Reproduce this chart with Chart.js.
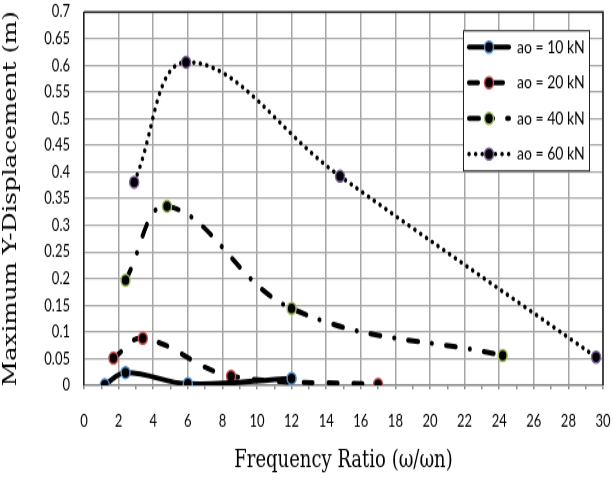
<!DOCTYPE html>
<html>
<head>
<meta charset="utf-8">
<title>Maximum Y-Displacement vs Frequency Ratio</title>
<script src="https://cdn.jsdelivr.net/npm/chart.js@4.4.1/dist/chart.umd.min.js"></script>
<style>
  html, body { margin: 0; padding: 0; background: #fff; }
  #outer { width: 613px; height: 480px; overflow: hidden; position: relative; }
  /* the source picture is an Excel chart stretched vertically, so draw short and show tall */
  #wrap { position: absolute; left: 0; top: 0; width: 613px; height: 370px;
          transform: scaleY(1.2973); transform-origin: 0 0; }
</style>
</head>
<body>
<div id="outer"><div id="wrap"><canvas id="dispChart" width="613" height="370"></canvas></div></div>
<script>
const seriesLabels = ['ao = 10 kN', 'ao = 20 kN', 'ao = 40 kN', 'ao = 60 kN'];

// frequency ratio (x) and max Y displacement in m (y)
const ratio10 = [1.2, 2.4, 6.0, 12.0];
const disp10  = [0.001, 0.024, 0.003, 0.013];
const ratio20 = [1.7, 3.4, 8.5, 17.0];
const disp20  = [0.051, 0.088, 0.017, 0.002];
const ratio40 = [2.4, 4.8, 12.0, 24.2];
const disp40  = [0.197, 0.336, 0.144, 0.056];
const ratio60 = [2.9, 5.9, 14.8, 29.6];
const disp60  = [0.381, 0.606, 0.392, 0.053];

const xTicks = [0, 1, 2, 3, 4, 5, 6, 7, 8, 9, 10, 11, 12, 13, 14, 15, 16, 17, 18, 19, 20,
                21, 22, 23, 24, 25, 26, 27, 28, 29, 30];
const xTickLabels = ['0', '', '2', '', '4', '', '6', '', '8', '', '10', '', '12', '', '14', '',
                     '16', '', '18', '', '20', '', '22', '', '24', '', '26', '', '28', '', '30'];
const yTicks = [0, 0.05, 0.1, 0.15, 0.2, 0.25, 0.3, 0.35, 0.4, 0.45, 0.5, 0.55, 0.6, 0.65, 0.7];
const yTickLabels = ['0', '0.05', '0.1', '0.15', '0.2', '0.25', '0.3', '0.35', '0.4', '0.45',
                     '0.5', '0.55', '0.6', '0.65', '0.7'];

const markerColors = ['#4f8fd6', '#d0504d', '#9bbb59', '#8064a2'];
const dashes = [[], [9, 16], [10, 14, 0.1, 14], [0.1, 6.5]];
const widths = [4, 4, 4, 3.5];

function toPoints(xs, ys) {
    return xs.map((x, i) => ({ x: x, y: ys[i] }));
}

const seriesData = [
    toPoints(ratio10, disp10),
    toPoints(ratio20, disp20),
    toPoints(ratio40, disp40),
    toPoints(ratio60, disp60)
];

// top + right edges of the plot box (left is the y border)
const plotBox = {
    id: 'plotBox',
    beforeDatasetsDraw(chart) {
        const { ctx, chartArea } = chart;
        ctx.save();
        ctx.strokeStyle = '#222';
        ctx.lineWidth = 1.5;
        ctx.beginPath();
        ctx.moveTo(chartArea.left, chartArea.top);
        ctx.lineTo(chartArea.right, chartArea.top);
        ctx.lineTo(chartArea.right, chartArea.bottom);
        ctx.stroke();
        ctx.restore();
    }
};

// Excel style legend: line sample with marker in the middle
const legendBox = {
    id: 'legendBox',
    afterDatasetsDraw(chart) {
        const { ctx, chartArea } = chart;
        const w = 126, h = 108;
        const left = chartArea.right - 14 - w;
        const top = chartArea.top + 14;
        ctx.save();
        ctx.fillStyle = '#fff';
        ctx.fillRect(left, top, w, h);
        ctx.strokeStyle = '#222';
        ctx.lineWidth = 1;
        ctx.strokeRect(left + 0.5, top + 0.5, w, h);
        chart.data.datasets.forEach((ds, i) => {
            const y = top + 13 + i * 27.5;
            ctx.setLineDash(ds.borderDash);
            ctx.lineCap = 'round';
            ctx.lineWidth = ds.borderWidth;
            ctx.strokeStyle = '#000';
            ctx.beginPath();
            ctx.moveTo(left + 6, y);
            ctx.lineTo(left + 46, y);
            ctx.stroke();
            ctx.setLineDash([]);
            ctx.beginPath();
            ctx.arc(left + 26, y, ds.pointRadius, 0, Math.PI * 2);
            ctx.fillStyle = '#000';
            ctx.fill();
            ctx.lineWidth = 1.5;
            ctx.strokeStyle = ds.pointBorderColor;
            ctx.stroke();
            ctx.fillStyle = '#000';
            ctx.font = '14px Lato';
            ctx.textBaseline = 'middle';
            ctx.textAlign = 'left';
            ctx.fillText(ds.label, left + 54, y);
        });
        ctx.restore();
    }
};

const tickFont = { family: 'Lato', size: 13 };

new Chart(document.getElementById('dispChart').getContext('2d'), {
    type: 'scatter',
    data: {
        datasets: seriesLabels.map((label, i) => ({
            label: label,
            data: seriesData[i],
            showLine: true,
            tension: 0.4,
            borderColor: '#000',
            borderWidth: widths[i],
            borderDash: dashes[i],
            borderCapStyle: 'round',
            borderJoinStyle: 'round',
            pointRadius: 4.5,
            pointBackgroundColor: '#000',
            pointBorderColor: markerColors[i],
            pointBorderWidth: 1.5
        }))
    },
    options: {
        responsive: false,
        animation: false,
        layout: { padding: { top: 9.25, right: 10, bottom: 0, left: 0 } },
        plugins: {
            legend: { display: false },
            tooltip: { enabled: false }
        },
        scales: {
            x: {
                type: 'linear',
                min: 0,
                max: 30,
                afterBuildTicks: axis => { axis.ticks = xTicks.map(v => ({ value: v })); },
                afterFit: axis => {
                    axis.height = 73;
                    // tick padding would otherwise widen the side margins
                    axis.paddingLeft = 0;
                    axis.paddingRight = 0;
                },
                ticks: {
                    callback: (v, i) => xTickLabels[i],
                    autoSkip: false,
                    maxRotation: 0,
                    color: '#000',
                    font: tickFont,
                    padding: 17
                },
                grid: {
                    color: ctx => (ctx.index % 2 === 0 ? '#a6a6a6' : 'rgba(0,0,0,0)'),
                    lineWidth: 1.5,
                    tickColor: '#8c8c8c',
                    tickLength: 3
                },
                border: { color: '#8c8c8c', width: 1.5 },
                title: {
                    display: true,
                    text: 'Frequency Ratio (ω/ωn)',
                    color: '#000',
                    font: { family: 'DejaVu Serif', size: 18 },
                    padding: { top: 0, bottom: 4 }
                }
            },
            y: {
                min: 0,
                max: 0.7,
                afterBuildTicks: axis => { axis.ticks = yTicks.map(v => ({ value: v })); },
                afterFit: axis => {
                    axis.width = 84;
                    axis.paddingTop = 0;
                    axis.paddingBottom = 0;
                },
                ticks: {
                    callback: (v, i) => yTickLabels[i],
                    autoSkip: false,
                    color: '#000',
                    font: tickFont,
                    padding: 14
                },
                grid: { color: '#a6a6a6', lineWidth: 1.3, drawTicks: false },
                border: { color: '#222', width: 1.5 },
                title: {
                    display: true,
                    text: 'Maximum Y-Displacement (m)',
                    color: '#000',
                    font: { family: 'DejaVu Serif', size: 19 },
                    padding: { top: 0, bottom: 0 }
                }
            }
        }
    },
    plugins: [plotBox, legendBox]
});
</script>
</body>
</html>
